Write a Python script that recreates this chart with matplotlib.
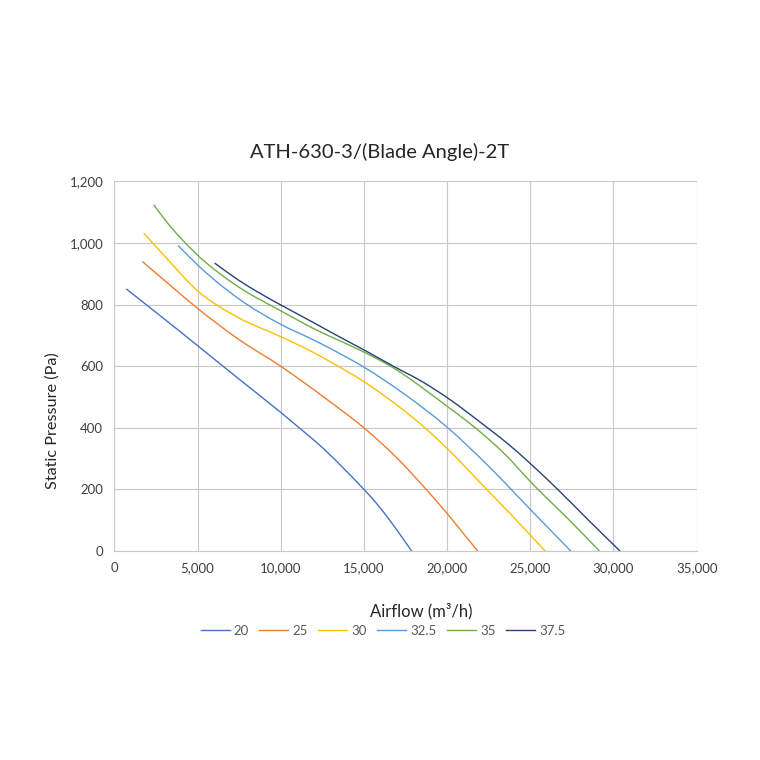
import matplotlib
matplotlib.use("Agg")
import matplotlib.pyplot as plt
from matplotlib.ticker import FuncFormatter
from matplotlib.path import Path
from matplotlib.patches import PathPatch
from matplotlib.lines import Line2D

# ---- data ----
labels = ["20", "25", "30", "32.5", "35", "37.5"]

x20 = [743, 2500, 5000, 7500, 10000, 11000, 12500, 13750, 15000, 15750, 16550, 17350, 17870]
y20 = [850, 775, 667, 558, 450, 405, 336, 270, 200, 155, 100, 40, 0]

x25 = [1705, 3050, 5000, 7450, 10000, 11160, 12960, 15000, 16970, 18775, 20000, 20975, 21840]
y25 = [939, 877, 788, 688, 600, 556, 485, 400, 303, 198, 122, 57, 0]

x30 = [1785, 3050, 5000, 7450, 10000, 12060, 12960, 15000, 17500, 18670, 20000, 22380, 25000, 25885]
y30 = [1031, 956, 845, 758, 696, 642, 615, 550, 452, 400, 333, 200, 52, 0]

x325 = [3848, 5000, 7450, 10000, 12060, 12960, 15000, 17470, 20000, 22500, 25000, 27430]
y325 = [991, 929, 820, 736, 683, 658, 597, 508, 402, 275, 135, 0]

x35 = [2386, 3050, 5000, 7450, 10000, 12060, 12960, 15000, 16570, 20000, 21580, 23400, 25280, 27500, 29150]
y35 = [1123, 1075, 961, 858, 780, 720, 697, 646, 601, 470, 405, 318, 210, 92, 0]

x375 = [6051, 7450, 8650, 10000, 12060, 12960, 15000, 16770, 18500, 20000, 22380, 23700, 25000, 26590, 28500, 30390]
y375 = [934, 880, 840, 799, 739, 712, 653, 600, 550, 498, 402, 346, 284, 203, 100, 0]

series_x = [x20, x25, x30, x325, x35, x375]
series_y = [y20, y25, y30, y325, y35, y375]
colors = ["#4472C4", "#ED7D31", "#FFC000", "#5B9BD5", "#70AD47", "#264478"]

x_ticks = [0, 5000, 10000, 15000, 20000, 25000, 30000, 35000]
y_ticks = [0, 200, 400, 600, 800, 1000, 1200]

plt.rcParams["font.family"] = ["Lato", "DejaVu Sans"]


def smooth_path(xs, ys):
    """Cubic Bezier path through the data points (smoothed line, Hermite tangents)."""
    n = len(xs)
    h = [xs[i + 1] - xs[i] for i in range(n - 1)]
    d = [(ys[i + 1] - ys[i]) / h[i] for i in range(n - 1)]
    m = [0.0] * n
    m[0] = d[0]
    m[-1] = d[-1]
    for i in range(1, n - 1):
        m[i] = (h[i] * d[i - 1] + h[i - 1] * d[i]) / (h[i - 1] + h[i])
    verts = [(xs[0], ys[0])]
    codes = [Path.MOVETO]
    for i in range(n - 1):
        t = h[i] / 3.0
        verts += [(xs[i] + t, ys[i] + m[i] * t),
                  (xs[i + 1] - t, ys[i + 1] - m[i + 1] * t),
                  (xs[i + 1], ys[i + 1])]
        codes += [Path.CURVE4] * 3
    return Path(verts, codes)


fig = plt.figure(figsize=(7.6, 7.6), dpi=100)
ax = fig.add_axes([0.1504, 0.275, 0.7663, 0.4863])

handles = []
for xs, ys, c, lab in zip(series_x, series_y, colors, labels):
    ax.add_patch(PathPatch(smooth_path(xs, ys), facecolor="none", edgecolor=c,
                           lw=1.0, capstyle="round", joinstyle="round"))
    handles.append(Line2D([], [], color=c, lw=1.0, label=lab))

ax.set_xlim(0, 35000)
ax.set_ylim(0, 1200)
ax.set_xticks(x_ticks)
ax.set_yticks(y_ticks)
fmt = FuncFormatter(lambda v, p: f"{int(v):,}")
ax.xaxis.set_major_formatter(fmt)
ax.yaxis.set_major_formatter(fmt)

ax.grid(True, color="#C8C8C8", lw=0.8)
ax.set_axisbelow(True)
for s in ["top", "right", "left"]:
    ax.spines[s].set_visible(False)
ax.spines["bottom"].set_color("#C8C8C8")
ax.spines["bottom"].set_linewidth(0.8)
ax.tick_params(length=0, labelsize=9.5, labelcolor="#404040", pad=8)

fig.text(0.5, 1 - 152 / 760, "ATH-630-3/(Blade Angle)-2T", fontsize=14.5,
         color="#262626", ha="center", va="center")
fig.text(53 / 760, 1 - 421 / 760, "Static Pressure (Pa)", fontsize=11.7,
         color="#262626", ha="center", va="center", rotation=90)
fig.text(421 / 760, 1 - 611 / 760, "Airflow (m³/h)", fontsize=12,
         color="#262626", ha="center", va="center")

leg = ax.legend(handles=handles, loc="center", bbox_to_anchor=(383 / 760, 1 - 631 / 760),
                bbox_transform=fig.transFigure, ncol=6,
                frameon=False, fontsize=9.5, handlelength=2.2, columnspacing=0.8,
                handletextpad=0.3)
for t in leg.get_texts():
    t.set_color("#595959")

fig.savefig("out.png", dpi=100, facecolor="white")
